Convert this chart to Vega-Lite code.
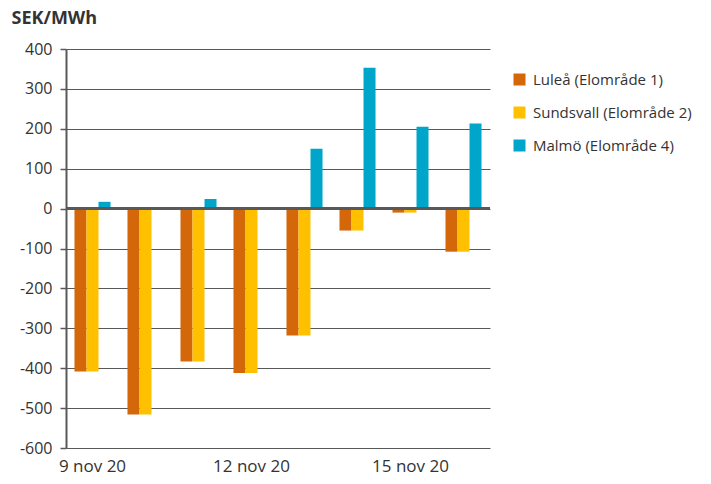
{
  "$schema": "https://vega.github.io/schema/vega-lite/v6.json",
  "width": 424,
  "height": 399,
  "autosize": {"type": "none"},
  "padding": {"left": 66, "top": 49, "right": 221, "bottom": 36},
  "background": "white",
  "config": {"view": {"stroke": null}, "font": "Open Sans"},
  "data": {
    "values": [
      {"date": "9 nov 20", "serie": "Luleå (Elområde 1)", "value": -408},
      {"date": "9 nov 20", "serie": "Sundsvall (Elområde 2)", "value": -408},
      {"date": "9 nov 20", "serie": "Malmö (Elområde 4)", "value": 17},
      {"date": "10 nov 20", "serie": "Luleå (Elområde 1)", "value": -516},
      {"date": "10 nov 20", "serie": "Sundsvall (Elområde 2)", "value": -516},
      {"date": "10 nov 20", "serie": "Malmö (Elområde 4)", "value": 0},
      {"date": "11 nov 20", "serie": "Luleå (Elområde 1)", "value": -383},
      {"date": "11 nov 20", "serie": "Sundsvall (Elområde 2)", "value": -383},
      {"date": "11 nov 20", "serie": "Malmö (Elområde 4)", "value": 24},
      {"date": "12 nov 20", "serie": "Luleå (Elområde 1)", "value": -412},
      {"date": "12 nov 20", "serie": "Sundsvall (Elområde 2)", "value": -412},
      {"date": "12 nov 20", "serie": "Malmö (Elområde 4)", "value": 1},
      {"date": "13 nov 20", "serie": "Luleå (Elområde 1)", "value": -318},
      {"date": "13 nov 20", "serie": "Sundsvall (Elområde 2)", "value": -318},
      {"date": "13 nov 20", "serie": "Malmö (Elområde 4)", "value": 150},
      {"date": "14 nov 20", "serie": "Luleå (Elområde 1)", "value": -55},
      {"date": "14 nov 20", "serie": "Sundsvall (Elområde 2)", "value": -55},
      {"date": "14 nov 20", "serie": "Malmö (Elområde 4)", "value": 353},
      {"date": "15 nov 20", "serie": "Luleå (Elområde 1)", "value": -10},
      {"date": "15 nov 20", "serie": "Sundsvall (Elområde 2)", "value": -10},
      {"date": "15 nov 20", "serie": "Malmö (Elområde 4)", "value": 205},
      {"date": "16 nov 20", "serie": "Luleå (Elområde 1)", "value": -108},
      {"date": "16 nov 20", "serie": "Sundsvall (Elområde 2)", "value": -108},
      {"date": "16 nov 20", "serie": "Malmö (Elområde 4)", "value": 213}
    ]
  },
  "layer": [
    {
      "mark": {"type": "bar"},
      "encoding": {
        "x": {
          "field": "date", "type": "nominal", "sort": null,
          "scale": {"paddingInner": 0.32, "paddingOuter": 0.16},
          "axis": {
            "values": ["9 nov 20", "12 nov 20", "15 nov 20"],
            "title": null, "labelAngle": 0, "ticks": false, "domain": false,
            "labelFontSize": 17, "labelColor": "#333333", "labelPadding": 10
          }
        },
        "xOffset": {
          "field": "serie", "type": "nominal",
          "scale": {"domain": ["Luleå (Elområde 1)", "Sundsvall (Elområde 2)", "Malmö (Elområde 4)"]}
        },
        "y": {
          "field": "value", "type": "quantitative",
          "scale": {"domain": [-600, 400], "nice": false},
          "axis": {
            "values": [-600, -500, -400, -300, -200, -100, 0, 100, 200, 300, 400],
            "labelOverlap": false,
            "labelExpr": "'' + datum.value",
            "grid": true, "gridColor": "#595959", "gridOpacity": 1, "gridWidth": 1,
            "domainColor": "#595959", "domainWidth": 2,
            "tickColor": "#595959", "tickSize": 6, "tickWidth": 1.5,
            "labelFontSize": 16, "labelColor": "#333333", "labelPadding": 8,
            "title": "SEK/MWh", "titleAngle": 0, "titleAlign": "left", "titleBaseline": "middle",
            "titleX": -55, "titleY": -31, "titleFontSize": 18, "titleFontWeight": "bold", "titleColor": "#333333"
          }
        },
        "color": {
          "field": "serie", "type": "nominal",
          "scale": {
            "domain": ["Luleå (Elområde 1)", "Sundsvall (Elområde 2)", "Malmö (Elområde 4)"],
            "range": ["#D4670A", "#FFC000", "#00A6CA"]
          },
          "legend": {
            "title": null, "orient": "none", "legendX": 446, "legendY": 23,
            "symbolType": "square", "symbolSize": 144, "symbolStrokeWidth": 0,
            "labelFontSize": 15, "labelColor": "#333333", "rowPadding": 17, "labelOffset": 6
          }
        }
      }
    },
    {
      "mark": {"type": "rule", "color": "#595959", "strokeWidth": 2},
      "encoding": {
        "y": {
          "datum": 0, "type": "quantitative",
          "scale": {"domain": [-600, 400], "nice": false},
          "axis": {
            "values": [-600, -500, -400, -300, -200, -100, 0, 100, 200, 300, 400],
            "labelOverlap": false,
            "labelExpr": "'' + datum.value",
            "grid": true, "gridColor": "#595959", "gridOpacity": 1, "gridWidth": 1,
            "domainColor": "#595959", "domainWidth": 2,
            "tickColor": "#595959", "tickSize": 6, "tickWidth": 1.5,
            "labelFontSize": 16, "labelColor": "#333333", "labelPadding": 8,
            "title": "SEK/MWh", "titleAngle": 0, "titleAlign": "left", "titleBaseline": "middle",
            "titleX": -55, "titleY": -31, "titleFontSize": 18, "titleFontWeight": "bold", "titleColor": "#333333"
          }
        }
      }
    }
  ]
}
